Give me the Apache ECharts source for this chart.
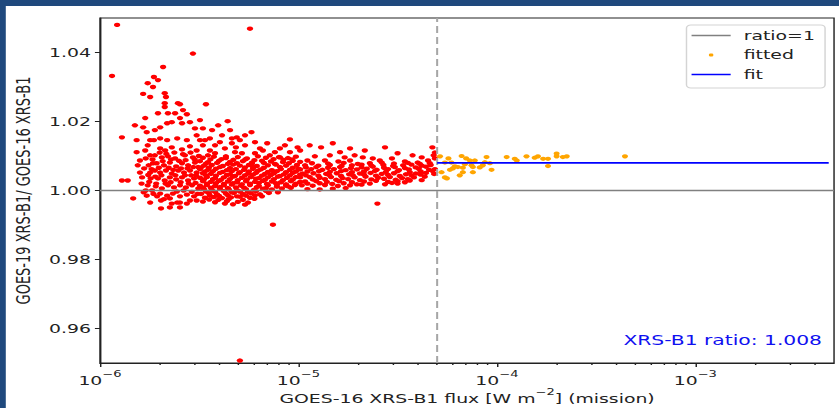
<!DOCTYPE html>
<html><head><meta charset="utf-8">
<script src="https://cdn.jsdelivr.net/npm/echarts@6/dist/echarts.min.js"></script>
<style>
html,body{margin:0;padding:0;width:839px;height:408px;overflow:hidden;background:#1f497d;}
#wrap{position:absolute;left:0;top:0;width:579px;height:408px;transform:scaleX(1.449);transform-origin:0 0;}
#chart{position:absolute;left:4px;top:6px;width:575px;height:402px;background:#fff;}
</style></head><body><div id="wrap"><div id="chart"></div></div>
<script>
// ---- axis settings ----
const xMin = 1e-6, xMax = 5e-3;
const yMin = 0.95, yMax = 1.05;
const xMajorTicks = [1e-6, 1e-5, 1e-4, 1e-3];
const xMinorTicks = [2e-6,3e-6,4e-6,5e-6,6e-6,7e-6,8e-6,9e-6,
  2e-5,3e-5,4e-5,5e-5,6e-5,7e-5,8e-5,9e-5,
  2e-4,3e-4,4e-4,5e-4,6e-4,7e-4,8e-4,9e-4,
  2e-3,3e-3,4e-3];
const yTicks = [0.96, 0.98, 1.00, 1.02, 1.04];

// ---- reference lines ----
const threshold = 5e-5;
const fitRatio = 1.008;
const ratioLine = [[1e-6, 1.0], [5e-3, 1.0]];
const fitLine = [[5e-5, fitRatio], [4.7e-3, fitRatio]];

// ---- data below threshold (red) ----
const redPoints = [
 // sparse left part
 [1.15e-6,1.0332],[1.22e-6,1.0480],[1.29e-6,1.0154],[1.29e-6,1.0029],[1.38e-6,1.0029],[1.47e-6,0.9977],
 [1.50e-6,1.0189],[1.59e-6,1.0052],[1.63e-6,1.0038],[1.65e-6,1.0280],[1.65e-6,1.0183],[1.69e-6,1.0210],
 [1.72e-6,1.0169],[1.74e-6,1.0311],[1.53e-6,1.0146],[1.53e-6,1.0111],[1.59e-6,1.0087],[1.55e-6,1.0073],
 [1.69e-6,1.0116],[1.70e-6,1.0093],[1.74e-6,1.0131],[1.76e-6,1.0073],[1.79e-6,1.0271],[1.79e-6,1.0146],
 [1.79e-6,1.0102],[1.79e-6,1.0052],[1.74e-6,1.0015],[1.83e-6,1.0000],[1.72e-6,0.9985],
 [1.67e-6,1.0064],[1.80e-6,1.0035],[1.70e-6,1.0000],[1.85e-6,1.0079],[1.94e-6,0.9983],[1.79e-6,0.9965],
 // 1.8e-6 .. 3.2e-6
 [1.85e-6,1.0300],[1.87e-6,1.0329],[1.96e-6,1.0320],[2.08e-6,1.0358],[2.12e-6,1.0282],[2.15e-6,1.0271],
 [2.12e-6,1.0253],[2.12e-6,1.0242],[2.47e-6,1.0253],[2.53e-6,1.0250],[1.96e-6,1.0224],[2.20e-6,1.0224],
 [2.62e-6,1.0233],[2.74e-6,1.0221],[2.39e-6,1.0224],[2.53e-6,1.0210],[1.89e-6,1.0175],[2.01e-6,1.0183],
 [2.18e-6,1.0195],[2.30e-6,1.0198],[2.59e-6,1.0195],[2.84e-6,1.0198],[3.19e-6,1.0204],[2.94e-6,1.0397],
 [1.87e-6,1.0146],[2.01e-6,1.0151],[2.18e-6,1.0146],[2.45e-6,1.0151],[2.74e-6,1.0146],[3.07e-6,1.0160],
 [2.01e-6,1.0122],[2.13e-6,1.0116],[2.30e-6,1.0125],[2.59e-6,1.0119],[2.84e-6,1.0128],[3.07e-6,1.0116],
 [1.89e-6,1.0102],[2.05e-6,1.0096],[2.20e-6,1.0099],[2.39e-6,1.0093],[2.68e-6,1.0102],[2.94e-6,1.0096],
 [1.93e-6,1.0079],[2.10e-6,1.0073],[2.25e-6,1.0081],[2.42e-6,1.0070],[2.59e-6,1.0079],[2.78e-6,1.0073],[3.01e-6,1.0081],
 [1.89e-6,1.0058],[2.01e-6,1.0052],[2.15e-6,1.0058],[2.30e-6,1.0049],[2.48e-6,1.0058],[2.65e-6,1.0052],[2.84e-6,1.0058],[3.07e-6,1.0052],
 [1.96e-6,1.0035],[2.12e-6,1.0029],[2.25e-6,1.0038],[2.42e-6,1.0032],[2.59e-6,1.0038],[2.78e-6,1.0029],[2.98e-6,1.0035],
 [1.91e-6,1.0012],[2.05e-6,1.0006],[2.20e-6,1.0015],[2.36e-6,1.0009],[2.53e-6,1.0015],[2.71e-6,1.0009],[2.91e-6,1.0015],[3.13e-6,1.0006],
 [2.01e-6,0.9991],[2.18e-6,0.9985],[2.33e-6,0.9991],[2.53e-6,0.9983],[2.74e-6,0.9988],[2.98e-6,0.9983],
 [2.03e-6,0.9971],[2.25e-6,0.9977],[2.53e-6,0.9965],[2.03e-6,0.9948],[2.25e-6,0.9951],[2.53e-6,0.9951],
 [2.30e-6,0.9962],[2.45e-6,0.9965],[2.74e-6,0.9962],[2.84e-6,0.9971],[3.07e-6,0.9971],
 [1.62e-6,1.0020],[1.66e-6,0.9995],[1.75e-6,1.0045],[1.77e-6,1.0025],[1.82e-6,1.0062],[1.84e-6,1.0090],
 [1.86e-6,0.9990],[1.90e-6,1.0040],[1.92e-6,1.0020],[1.98e-6,1.0066],[2.00e-6,1.0110],[2.04e-6,1.0044],
 [2.07e-6,1.0085],[2.10e-6,0.9975],[2.14e-6,1.0020],[2.16e-6,1.0106],[2.22e-6,1.0066],[2.27e-6,1.0024],
 [2.28e-6,1.0090],[2.34e-6,1.0060],[2.37e-6,1.0110],[2.40e-6,1.0044],[2.44e-6,0.9997],[2.50e-6,1.0086],
 [2.55e-6,1.0024],[2.56e-6,1.0064],[2.62e-6,1.0105],[2.64e-6,1.0000],[2.68e-6,1.0044],[2.70e-6,1.0088],
 [2.76e-6,1.0064],[2.80e-6,1.0020],[2.86e-6,1.0110],[2.88e-6,1.0044],[2.90e-6,0.9996],[2.95e-6,1.0068],
 [3.00e-6,1.0090],[3.03e-6,1.0022],[3.05e-6,1.0044],[3.10e-6,0.9990],[3.12e-6,1.0068],[3.15e-6,1.0100],
 // 3.2e-6 .. 1e-5 outliers and upper part
 [3.42e-6,1.0250],[4.40e-6,1.0201],[5.70e-6,1.0469],[5.07e-6,0.9507],[7.44e-6,0.9901],[5.80e-6,1.0169],
 [4.89e-6,1.0154],[5.07e-6,1.0146],[4.62e-6,1.0137],[9.06e-6,1.0148],[3.67e-6,1.0175],[3.94e-6,1.0189],
 [4.12e-6,1.0160],[3.38e-6,1.0146],[3.80e-6,1.0131],[4.26e-6,1.0122],[5.38e-6,1.0131],[6.40e-6,1.0122],
 [6.96e-6,1.0137],[8.07e-6,1.0122],[9.90e-6,1.0125],[3.58e-6,1.0116],[4.79e-6,1.0111],[6.04e-6,1.0108],
 [7.61e-6,1.0111],[9.06e-6,1.0111],
 [3.30e-6,1.0180],[3.58e-6,1.0151],[4.02e-6,1.0140],[4.52e-6,1.0175],[4.84e-6,1.0125],[3.30e-6,1.0131],
 [3.80e-6,1.0108],[4.31e-6,1.0099],[4.62e-6,1.0151],[3.50e-6,1.0102],[5.19e-6,1.0108],[3.19e-6,1.0146],
 [3.01e-6,1.0180],[5.38e-6,1.0160],[6.04e-6,1.0140],[6.62e-6,1.0116],[7.18e-6,1.0102],[8.55e-6,1.0131],[8.07e-6,1.0096],
 // dense core 3.2e-6 .. 1e-5
 [3.30e-6,1.0095],[3.75e-6,1.0098],[4.31e-6,1.0094],[4.95e-6,1.0097],[5.50e-6,1.0093],[6.25e-6,1.0099],[6.86e-6,1.0095],[7.98e-6,1.0097],[8.86e-6,1.0094],[9.71e-6,1.0098],
 [3.60e-6,1.0090],[4.10e-6,1.0091],[4.70e-6,1.0089],[5.40e-6,1.0090],[6.00e-6,1.0088],[7.50e-6,1.0091],[8.40e-6,1.0089],[9.30e-6,1.0090],
 [3.19e-6,1.0085],[3.50e-6,1.0082],[3.98e-6,1.0086],[4.52e-6,1.0083],[5.25e-6,1.0085],[5.83e-6,1.0081],[6.55e-6,1.0086],[7.27e-6,1.0084],[8.36e-6,1.0082],[9.37e-6,1.0086],[1.02e-5,1.0083],
 [3.42e-6,1.0078],[3.89e-6,1.0080],[4.41e-6,1.0077],[4.90e-6,1.0079],[5.83e-6,1.0078],[6.70e-6,1.0080],[7.61e-6,1.0077],[8.96e-6,1.0079],
 [3.34e-6,1.0072],[3.66e-6,1.0074],[4.16e-6,1.0071],[4.68e-6,1.0075],[5.07e-6,1.0072],[5.63e-6,1.0074],[6.17e-6,1.0071],[7.02e-6,1.0073],[7.70e-6,1.0075],[8.66e-6,1.0072],[9.83e-6,1.0074],
 [3.23e-6,1.0067],[3.54e-6,1.0066],[4.02e-6,1.0068],[4.52e-6,1.0065],[5.38e-6,1.0067],[5.90e-6,1.0069],[6.70e-6,1.0066],[8.07e-6,1.0068],[9.37e-6,1.0066],
 [3.19e-6,1.0062],[3.50e-6,1.0060],[3.84e-6,1.0063],[4.36e-6,1.0059],[4.84e-6,1.0062],[5.32e-6,1.0060],[5.90e-6,1.0063],[6.47e-6,1.0061],[7.35e-6,1.0059],[8.16e-6,1.0062],[9.06e-6,1.0060],[1.00e-5,1.0063],
 [3.38e-6,1.0055],[3.71e-6,1.0056],[4.16e-6,1.0054],[4.62e-6,1.0056],[5.07e-6,1.0053],[5.63e-6,1.0055],[6.25e-6,1.0057],[7.02e-6,1.0054],[7.79e-6,1.0056],[8.66e-6,1.0053],[9.71e-6,1.0055],
 [3.30e-6,1.0050],[3.62e-6,1.0048],[4.02e-6,1.0051],[4.52e-6,1.0047],[5.01e-6,1.0050],[5.57e-6,1.0049],[6.11e-6,1.0051],[6.78e-6,1.0048],[7.53e-6,1.0050],[8.45e-6,1.0047],[9.37e-6,1.0051],
 [3.42e-6,1.0044],[3.84e-6,1.0043],[4.36e-6,1.0045],[4.79e-6,1.0042],[5.38e-6,1.0044],[5.90e-6,1.0046],[6.55e-6,1.0043],[7.27e-6,1.0045],[8.07e-6,1.0042],[9.06e-6,1.0044],[1.02e-5,1.0046],
 [3.19e-6,1.0037],[3.46e-6,1.0039],[3.80e-6,1.0036],[4.21e-6,1.0038],[4.68e-6,1.0040],[5.19e-6,1.0037],[5.76e-6,1.0039],[6.32e-6,1.0036],[7.02e-6,1.0038],[7.88e-6,1.0040],[8.76e-6,1.0037],[9.71e-6,1.0039],
 [3.34e-6,1.0032],[3.71e-6,1.0033],[4.07e-6,1.0031],[4.52e-6,1.0033],[4.95e-6,1.0030],[5.50e-6,1.0032],[6.11e-6,1.0034],[6.78e-6,1.0031],[7.53e-6,1.0033],[8.36e-6,1.0030],[9.37e-6,1.0032],
 [3.30e-6,1.0027],[3.62e-6,1.0025],[3.98e-6,1.0028],[4.41e-6,1.0026],[4.90e-6,1.0024],[5.44e-6,1.0027],[6.04e-6,1.0025],[6.62e-6,1.0028],[7.35e-6,1.0026],[8.16e-6,1.0024],[9.16e-6,1.0027],[1.02e-5,1.0025],
 [3.46e-6,1.0020],[3.84e-6,1.0021],[4.21e-6,1.0019],[4.68e-6,1.0021],[5.19e-6,1.0018],[5.70e-6,1.0020],[6.32e-6,1.0022],[6.94e-6,1.0019],[7.70e-6,1.0021],[8.66e-6,1.0018],[9.71e-6,1.0020],
 [3.19e-6,1.0014],[3.46e-6,1.0016],[3.80e-6,1.0013],[4.21e-6,1.0015],[4.62e-6,1.0017],[5.13e-6,1.0014],[5.70e-6,1.0016],[6.32e-6,1.0013],[7.02e-6,1.0015],[7.79e-6,1.0017],[8.66e-6,1.0014],[9.60e-6,1.0016],
 [3.30e-6,1.0009],[3.62e-6,1.0008],[4.02e-6,1.0010],[4.41e-6,1.0007],[4.84e-6,1.0009],[5.32e-6,1.0008],[6.17e-6,1.0010],[6.86e-6,1.0007],[7.79e-6,1.0011],[8.86e-6,1.0012],
 [3.34e-6,1.0004],[3.66e-6,1.0002],[4.02e-6,1.0005],[4.46e-6,1.0003],[4.90e-6,1.0001],[5.44e-6,1.0004],[5.97e-6,1.0002],[6.62e-6,1.0005],[7.35e-6,1.0003],[8.26e-6,1.0006],[9.16e-6,1.0008],
 [3.42e-6,0.9997],[3.80e-6,0.9996],[4.21e-6,0.9998],[4.62e-6,0.9995],[5.07e-6,0.9997],[5.57e-6,0.9996],[6.11e-6,0.9998],[6.86e-6,0.9999],
 [3.23e-6,0.9990],[3.54e-6,0.9992],[3.89e-6,0.9989],[4.31e-6,0.9991],[4.73e-6,0.9993],[5.25e-6,0.9990],[5.76e-6,0.9992],[6.40e-6,0.9989],[7.10e-6,0.9993],[7.88e-6,0.9995],
 [3.58e-6,0.9985],[3.98e-6,0.9984],[4.41e-6,0.9986],[4.90e-6,0.9983],[5.44e-6,0.9985],[6.04e-6,0.9986],
 [3.38e-6,0.9979],[3.75e-6,0.9981],[4.12e-6,0.9978],[4.57e-6,0.9980],[5.07e-6,0.9982],[5.70e-6,0.9979],[6.55e-6,0.9983],
 [3.55e-6,0.9974],[3.95e-6,0.9973],[4.45e-6,0.9975],[5.25e-6,0.9973],[6.00e-6,0.9976],
 [3.30e-6,0.9968],[3.80e-6,0.9966],[4.36e-6,0.9969],[4.95e-6,0.9967],[5.57e-6,0.9965],[4.26e-6,0.9962],[4.68e-6,0.9960],[5.38e-6,0.9959],
 // band 1e-5 .. 5e-5
 [1.02e-5,1.0116],[1.14e-5,1.0131],[1.30e-5,1.0125],[1.49e-5,1.0137],[1.62e-5,1.0111],[1.82e-5,1.0122],[2.16e-5,1.0116],
 [2.73e-5,1.0125],[3.16e-5,1.0108],[3.76e-5,1.0102],[4.18e-5,1.0096],[4.73e-5,1.0125],[2.11e-5,1.0096],[2.37e-5,1.0093],
 [2.57e-5,1.0087],[1.92e-5,1.0102],[1.71e-5,1.0096],[1.44e-5,1.0102],[1.21e-5,1.0099],[1.11e-5,1.0087],[1.36e-5,1.0087],
 [1.59e-5,1.0084],[1.82e-5,1.0087],[2.96e-5,1.0093],[3.44e-5,1.0084],[3.99e-5,1.0081],[4.50e-5,1.0087],[4.87e-5,1.0093],
 [4.87e-5,1.0110],[4.80e-5,1.0102],
 [1.17e-5,1.0079],[1.41e-5,1.0078],[1.69e-5,1.0080],[1.99e-5,1.0077],[2.29e-5,1.0079],[2.63e-5,1.0081],[3.03e-5,1.0078],[3.56e-5,1.0080],[4.09e-5,1.0077],[4.59e-5,1.0079],
 [1.08e-5,1.0073],[1.26e-5,1.0072],[1.44e-5,1.0074],[1.65e-5,1.0071],[1.86e-5,1.0073],[2.08e-5,1.0075],[2.33e-5,1.0072],[2.68e-5,1.0074],[3.00e-5,1.0071],[3.37e-5,1.0073],[3.71e-5,1.0075],[4.18e-5,1.0072],[4.64e-5,1.0074],
 [1.09e-5,1.0067],[1.23e-5,1.0068],[1.41e-5,1.0066],[1.62e-5,1.0068],[1.84e-5,1.0065],[2.08e-5,1.0067],[2.37e-5,1.0069],[2.70e-5,1.0066],[3.06e-5,1.0068],[3.44e-5,1.0065],[3.90e-5,1.0067],[4.39e-5,1.0069],
 [1.02e-5,1.0061],[1.16e-5,1.0062],[1.32e-5,1.0060],[1.51e-5,1.0062],[1.73e-5,1.0059],[1.97e-5,1.0061],[2.21e-5,1.0063],[2.48e-5,1.0060],[2.83e-5,1.0062],[3.21e-5,1.0059],[3.60e-5,1.0061],[4.04e-5,1.0063],[4.55e-5,1.0060],[4.87e-5,1.0062],
 [1.11e-5,1.0055],[1.27e-5,1.0056],[1.44e-5,1.0054],[1.64e-5,1.0056],[1.86e-5,1.0053],[2.14e-5,1.0055],[2.43e-5,1.0057],[2.76e-5,1.0054],[3.16e-5,1.0056],[3.64e-5,1.0053],[4.13e-5,1.0055],[4.73e-5,1.0057],
 [1.05e-5,1.0049],[1.19e-5,1.0050],[1.38e-5,1.0048],[1.56e-5,1.0050],[1.80e-5,1.0047],[2.04e-5,1.0049],[2.31e-5,1.0051],[2.63e-5,1.0048],[3.03e-5,1.0050],[3.48e-5,1.0047],[3.90e-5,1.0049],[4.39e-5,1.0051],[4.83e-5,1.0048],
 [1.09e-5,1.0044],[1.26e-5,1.0043],[1.43e-5,1.0045],[1.64e-5,1.0042],[1.88e-5,1.0044],[2.14e-5,1.0046],[2.46e-5,1.0043],[2.83e-5,1.0045],[3.24e-5,1.0042],[3.71e-5,1.0044],[4.13e-5,1.0046],
 [1.02e-5,1.0038],[1.14e-5,1.0039],[1.28e-5,1.0037],[1.46e-5,1.0039],[1.67e-5,1.0036],[1.92e-5,1.0038],[2.18e-5,1.0040],[2.52e-5,1.0037],[2.89e-5,1.0039],[3.33e-5,1.0036],[3.82e-5,1.0038],[4.33e-5,1.0040],
 [1.18e-5,1.0032],[1.36e-5,1.0033],[1.55e-5,1.0031],[1.78e-5,1.0033],[2.04e-5,1.0030],[2.33e-5,1.0032],[2.70e-5,1.0034],[3.09e-5,1.0031],[3.56e-5,1.0033],
 [1.08e-5,1.0026],[1.23e-5,1.0027],[1.39e-5,1.0025],[1.60e-5,1.0027],[1.86e-5,1.0024],[2.14e-5,1.0026],[2.46e-5,1.0028],[2.83e-5,1.0025],[3.16e-5,1.0027],[3.64e-5,1.0029],[4.18e-5,1.0030],
 [1.11e-5,1.0020],[1.28e-5,1.0021],[1.48e-5,1.0019],[1.69e-5,1.0021],[1.97e-5,1.0018],[2.29e-5,1.0020],[2.96e-5,1.0022],[3.44e-5,1.0024],
 [1.04e-5,1.0015],[1.18e-5,1.0014],[1.36e-5,1.0016],[1.58e-5,1.0013],[1.82e-5,1.0015],[2.08e-5,1.0017],[2.73e-5,1.0018],[3.16e-5,1.0020],
 [1.11e-5,1.0004],[1.28e-5,1.0003],[1.49e-5,1.0005],[1.73e-5,1.0007],[2.50e-5,0.9962]
];

// ---- fitted data above threshold (orange) ----
const fittedPoints = [
 [5.17e-5,1.0099],[5.26e-5,1.0053],[5.47e-5,1.0038],[5.60e-5,1.0035],[5.80e-5,1.0060],[6.00e-5,1.0064],
 [6.14e-5,1.0070],[6.36e-5,1.0068],[6.64e-5,1.0100],[6.74e-5,1.0066],[6.74e-5,1.0053],[7.31e-5,1.0087],
 [7.45e-5,1.0073],[7.57e-5,1.0068],[7.57e-5,1.0053],[7.74e-5,1.0087],[8.49e-5,1.0073],[8.70e-5,1.0082],
 [8.87e-5,1.0097],[9.22e-5,1.0079],[9.40e-5,1.0060],[5.90e-5,1.0081],[5.70e-5,1.0093],[7.00e-5,1.0093],
 [8.20e-5,1.0067],[6.50e-5,1.0044],[5.47e-5,1.0081],[6.90e-5,1.0076],
 [1.12e-4,1.0097],[1.23e-4,1.0092],[1.26e-4,1.0087],[1.41e-4,1.0099],[1.55e-4,1.0095],[1.61e-4,1.0099],
 [1.71e-4,1.0092],[1.81e-4,1.0092],[1.81e-4,1.0071],[2.00e-4,1.0107],[2.00e-4,1.0099],[2.15e-4,1.0097],
 [2.25e-4,1.0099],[4.42e-4,1.0099]
];

const fontFamily = 'DejaVu Sans';
const textColor = '#222';
const lineIcon = 'path://M0,0M27,12M0,5.3L27,5.3L27,6.7L0,6.7Z';
const dotIcon = 'path://M0,0M27,12M12.6,4.6L14.4,4.6L15,5.2L15,6.8L14.4,7.4L12.6,7.4L12,6.8L12,5.2Z';

const chart = echarts.init(document.getElementById('chart'), null, {renderer: 'svg'});
chart.setOption({
  animation: false,
  backgroundColor: '#fff',
  textStyle: {fontFamily: fontFamily},
  grid: {left: 65, right: 3.4, top: 12, bottom: 45, show: true, borderColor: '#222', borderWidth: 1,
         backgroundColor: '#fff', containLabel: false, outerBoundsMode: 'none'},
  legend: {
    orient: 'vertical', right: 9.6, top: 19,
    data: [
      {name: 'ratio=1', icon: lineIcon},
      {name: 'fitted', icon: dotIcon},
      {name: 'fit', icon: lineIcon}
    ],
    itemWidth: 27, itemHeight: 12, itemGap: 6.5,
    padding: [4, 7, 7, 3.5],
    backgroundColor: '#fff', borderColor: '#d4d4d4', borderWidth: 1, borderRadius: 3,
    textStyle: {fontSize: 13, color: textColor, fontFamily: fontFamily, padding: [0, 0, 0, 4]},
    selectedMode: false
  },
  xAxis: [{
    type: 'log', logBase: 10, min: xMin, max: xMax,
    axisLine: {show: true, lineStyle: {color: '#222', width: 1}},
    axisTick: {show: true, inside: false, length: 4, lineStyle: {color: '#222', width: 1}, customValues: xMajorTicks},
    minorTick: {show: false},
    splitLine: {show: false},
    axisLabel: {
      customValues: xMajorTicks, margin: 7, color: textColor,
      formatter: function (v) { return '{b|10}{sup|\u2212' + (-Math.round(Math.log10(v))) + '}'; },
      rich: {
        b: {fontSize: 13, color: textColor, fontFamily: fontFamily, padding: [4, 0, 0, 0], verticalAlign: 'bottom'},
        sup: {fontSize: 9, color: textColor, fontFamily: fontFamily, verticalAlign: 'top'}
      }
    },
    name: '{t|GOES-16 XRS-B1 flux [W m}{sup|\u22122}{t|] (mission)}',
    nameLocation: 'middle', nameGap: 25, nameMoveOverlap: false,
    nameTextStyle: {
      fontSize: 13, color: textColor,
      rich: {
        t: {fontSize: 13, color: textColor, fontFamily: fontFamily, padding: [4, 0, 0, 0], verticalAlign: 'bottom'},
        sup: {fontSize: 9, color: textColor, fontFamily: fontFamily, verticalAlign: 'top'}
      }
    }
  }, {
    type: 'log', logBase: 10, min: xMin, max: xMax, gridIndex: 0, position: 'bottom',
    axisLine: {show: false}, axisLabel: {show: false}, splitLine: {show: false},
    axisTick: {show: true, inside: false, length: 2, lineStyle: {color: '#222', width: 1}, customValues: xMinorTicks}
  }],
  yAxis: {
    type: 'value', min: yMin, max: yMax,
    axisLine: {show: true, lineStyle: {color: '#222', width: 1}},
    axisTick: {show: true, inside: false, length: 3.5, lineStyle: {color: '#222'}, customValues: yTicks},
    splitLine: {show: false},
    axisLabel: {customValues: yTicks, margin: 6.2, fontSize: 13, color: textColor, formatter: function (v) { return v.toFixed(2); }},
    name: 'GOES-19 XRS-B1/ GOES-16 XRS-B1',
    nameLocation: 'middle', nameGap: 46.5, nameMoveOverlap: false,
    nameTextStyle: {fontSize: 13, color: textColor}
  },
  graphic: [{
    type: 'text', x: 563.3, y: 334, silent: true,
    style: {text: 'XRS-B1 ratio: 1.008', fill: '#1010f0', fontSize: 14, fontFamily: fontFamily, align: 'right', verticalAlign: 'middle'}
  }],
  series: [
    {name: 'ratio=1', type: 'line', data: ratioLine, symbol: 'none', silent: true,
     lineStyle: {color: '#808080', width: 1.3}, itemStyle: {color: '#808080'}},
    {name: 'threshold', type: 'line', data: [[threshold, yMin], [threshold, yMax]], symbol: 'none', silent: true,
     lineStyle: {color: '#a6a6a6', width: 1.4, type: [7, 4]}, itemStyle: {color: '#a6a6a6'}},
    {name: 'data', type: 'scatter', data: redPoints, symbol: 'circle', symbolSize: 4.4, silent: true,
     itemStyle: {color: '#ff0000', opacity: 1}},
    {name: 'fitted', type: 'scatter', data: fittedPoints, symbol: 'circle', symbolSize: 4.2, silent: true,
     itemStyle: {color: '#ffa500', opacity: 1}},
    {name: 'fit', type: 'line', data: fitLine, symbol: 'none', silent: true,
     lineStyle: {color: '#0000ff', width: 1.6}, itemStyle: {color: '#0000ff'}}
  ]
});
</script></body></html>
